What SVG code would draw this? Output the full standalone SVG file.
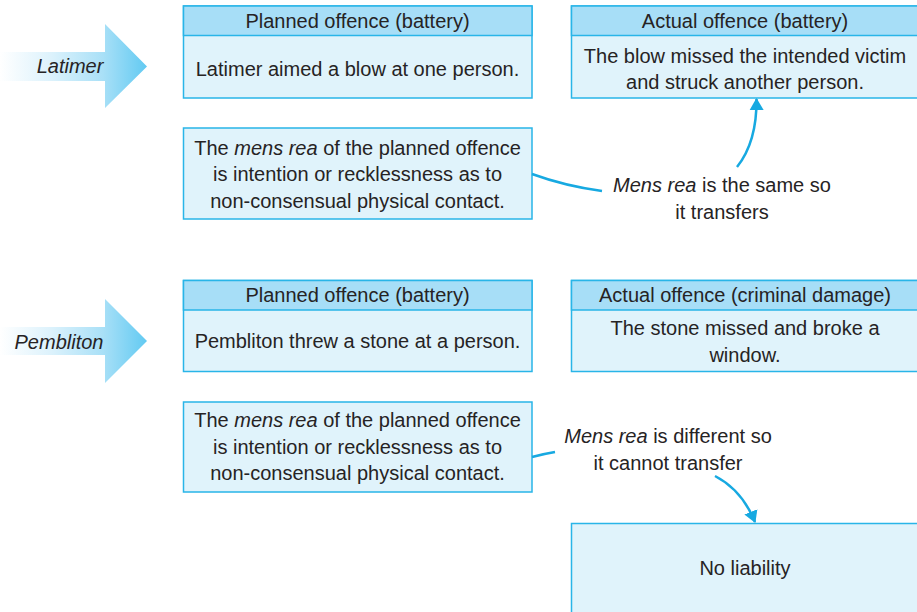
<svg xmlns="http://www.w3.org/2000/svg" width="917" height="612" viewBox="0 0 917 612">
  <defs>
    <linearGradient id="blockArrowFill" x1="0" y1="0" x2="1" y2="0">
      <stop offset="0" stop-color="#ffffff"/>
      <stop offset="0.35" stop-color="#dcf2fc"/>
      <stop offset="0.7" stop-color="#a9e0f7"/>
      <stop offset="1" stop-color="#62caf2"/>
    </linearGradient>
    <marker id="arrowHead" viewBox="0 0 12 16" refX="11" refY="8" markerWidth="12" markerHeight="16" markerUnits="userSpaceOnUse" orient="auto">
      <path d="M0,1 L12,8 L0,15 Z" fill="#17a9e1"/>
    </marker>
    <style>
      .hdr { fill: #a7def7; stroke: #29b5e8; stroke-width: 1.5; }
      .body { fill: #e0f3fb; stroke: #29b5e8; stroke-width: 1.5; }
      text { font-family: "Liberation Sans", Arial, sans-serif; font-size: 20px; fill: #262324; }
      .c { text-anchor: middle; }
      .it { font-style: italic; }
      .conn { fill: none; stroke: #17a9e1; stroke-width: 2.5; }
      .block { fill: url(#blockArrowFill); }
    </style>
  </defs>

  <!-- Case labels as block arrows -->
  <g id="latimer">
    <path class="block" d="M0,52 L105,52 L105,24 L147,66.5 L105,108 L105,81 L0,81 Z"/>
    <text class="c it" x="70" y="73">Latimer</text>
  </g>
  <g id="pembliton">
    <path class="block" d="M0,327 L105,327 L105,299 L147,341 L105,383 L105,355 L0,355 Z"/>
    <text class="c it" x="59" y="349">Pembliton</text>
  </g>

  <!-- Latimer: planned offence -->
  <g id="latimer-planned">
    <rect class="body" x="183.5" y="6" width="348.5" height="92"/>
    <rect class="hdr" x="183.5" y="6" width="348.5" height="29.5"/>
    <text class="c" x="357.5" y="27.5">Planned offence (battery)</text>
    <text class="c" x="357.5" y="76">Latimer aimed a blow at one person.</text>
  </g>

  <!-- Latimer: actual offence -->
  <g id="latimer-actual">
    <rect class="body" x="571.5" y="6" width="350" height="92"/>
    <rect class="hdr" x="571.5" y="6" width="350" height="29.5"/>
    <text class="c" x="745" y="27.5">Actual offence (battery)</text>
    <text class="c" x="745" y="63">The blow missed the intended victim</text>
    <text class="c" x="745" y="89">and struck another person.</text>
  </g>

  <!-- Latimer: mens rea -->
  <g id="latimer-mensrea">
    <rect class="body" x="183.5" y="128" width="348.5" height="91"/>
    <text class="c" x="357.5" y="154.5">The <tspan class="it">mens rea</tspan> of the planned offence</text>
    <text class="c" x="357.5" y="181">is intention or recklessness as to</text>
    <text class="c" x="357.5" y="207.5">non-consensual physical contact.</text>
  </g>

  <g id="latimer-note">
    <text class="c" x="722" y="192"><tspan class="it">Mens rea</tspan> is the same so</text>
    <text class="c" x="722" y="219">it transfers</text>
  </g>

  <!-- Pembliton: planned offence -->
  <g id="pembliton-planned">
    <rect class="body" x="183.5" y="280.5" width="348.5" height="91"/>
    <rect class="hdr" x="183.5" y="280.5" width="348.5" height="29.5"/>
    <text class="c" x="357.5" y="302">Planned offence (battery)</text>
    <text class="c" x="357.5" y="348">Pembliton threw a stone at a person.</text>
  </g>

  <!-- Pembliton: actual offence -->
  <g id="pembliton-actual">
    <rect class="body" x="571.5" y="280.5" width="350" height="91"/>
    <rect class="hdr" x="571.5" y="280.5" width="350" height="29.5"/>
    <text class="c" x="745" y="302">Actual offence (criminal damage)</text>
    <text class="c" x="745" y="335">The stone missed and broke a</text>
    <text class="c" x="745" y="362">window.</text>
  </g>

  <!-- Pembliton: mens rea -->
  <g id="pembliton-mensrea">
    <rect class="body" x="183.5" y="402" width="348.5" height="90"/>
    <text class="c" x="357.5" y="427">The <tspan class="it">mens rea</tspan> of the planned offence</text>
    <text class="c" x="357.5" y="453.5">is intention or recklessness as to</text>
    <text class="c" x="357.5" y="480">non-consensual physical contact.</text>
  </g>

  <g id="pembliton-note">
    <text class="c" x="668" y="443"><tspan class="it">Mens rea</tspan> is different so</text>
    <text class="c" x="668" y="470">it cannot transfer</text>
  </g>

  <!-- Outcome -->
  <g id="no-liability">
    <rect class="body" x="571.5" y="523.5" width="350" height="95"/>
    <text class="c" x="745" y="575">No liability</text>
  </g>

  <!-- Connectors -->
  <g id="connectors">
    <path class="conn" d="M532,174 Q565,186 602,191"/>
    <path class="conn" d="M737,167 Q757,142 756.5,99" marker-end="url(#arrowHead)"/>
    <path class="conn" d="M532,457 Q543,454 555,452"/>
    <path class="conn" d="M715,476 Q742,490 755,522" marker-end="url(#arrowHead)"/>
  </g>
</svg>
